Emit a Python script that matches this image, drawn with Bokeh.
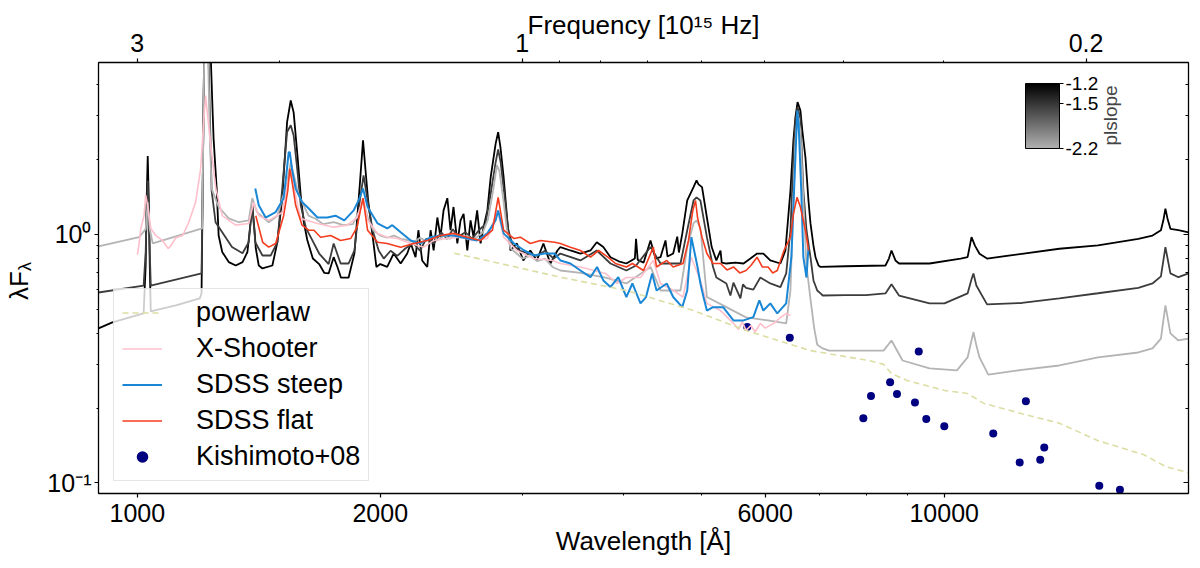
# -*- coding: utf-8 -*-
"""
Composite quasar spectra compared with three power-law models.

Rebuilt with bokeh from a matplotlib figure.
"""

from math import pi

from bokeh.embed import file_html
from bokeh.layouts import row
from bokeh.models import (ColorBar, CustomJSTickFormatter, Div, FixedTicker,
                          Label, Legend, LegendItem, LinearColorMapper,
                          LogAxis, LogScale, Range1d)
from bokeh.plotting import figure
from bokeh.resources import INLINE

C_AA = 2.998e18  # speed of light, Angstrom / s

wave_min, wave_max = 895.0, 20080.0
flux_min, flux_max = 0.0907, 4.92

wave_ticks = [1000, 2000, 6000, 10000]
wave_minor = [3000, 4000, 5000, 7000, 8000, 9000]
freq_ticks = [3, 1, 0.2]
freq_minor = [2, 0.9, 0.8, 0.7, 0.6, 0.5, 0.4, 0.3]
flux_ticks = [0.1, 1]
flux_minor = [0.2, 0.3, 0.4, 0.5, 0.6, 0.7, 0.8, 0.9, 2, 3, 4]
plslope_ticks = [-2.2, -1.5, -1.2]

# model composites (wavelength [A], lambda F_lambda), one per power-law slope
model_pl12 = [
    (895, 0.419), (931, 0.443), (1018, 0.481), (1024, 0.75), (1027, 1.40),
    (1030, 2.07), (1033, 1.40), (1036, 0.75), (1039, 0.490), (1116, 0.518),
    (1195, 0.553), (1201, 0.580), (1206, 2.00), (1210, 5.50), (1216, 9.00),
    (1224, 7.50), (1233, 5.20), (1238, 3.50), (1243, 2.43), (1254, 1.53),
    (1261, 0.99), (1274, 0.85), (1298, 0.774), (1324, 0.75), (1350, 0.774),
    (1369, 0.85), (1378, 1.04), (1388, 1.31), (1397, 1.04), (1402, 0.88),
    (1414, 0.75), (1429, 0.73), (1470, 0.75), (1491, 0.93), (1512, 1.40),
    (1533, 2.83), (1549, 3.46), (1562, 3.10), (1579, 2.08), (1594, 1.43),
    (1608, 1.12), (1624, 0.95), (1650, 0.80), (1680, 0.76), (1705, 0.70),
    (1726, 0.697), (1751, 0.81), (1770, 0.74), (1788, 0.67), (1827, 0.67),
    (1858, 0.84), (1887, 1.60), (1904, 2.39), (1918, 1.80), (1932, 1.37),
    (1960, 0.946), (1978, 0.74), (2000, 0.76), (2040, 0.74), (2078, 0.838),
    (2120, 0.764), (2160, 0.838), (2182, 0.92), (2212, 0.81), (2230, 1.04),
    (2254, 0.786), (2287, 0.74), (2309, 1.04), (2329, 0.862), (2354, 1.17),
    (2375, 0.975), (2396, 1.25), (2422, 1.40), (2444, 1.04), (2465, 1.29),
    (2492, 0.92), (2515, 1.14), (2537, 1.21), (2564, 0.862), (2588, 1.14),
    (2610, 0.975), (2637, 1.25), (2663, 0.92), (2686, 1.07), (2715, 1.25),
    (2741, 1.70), (2780, 2.32), (2800, 2.58), (2818, 2.25), (2844, 1.70),
    (2874, 1.14), (2900, 0.862), (2954, 0.92), (3008, 0.786), (3069, 0.862),
    (3127, 0.786), (3186, 0.92), (3250, 0.764), (3316, 0.862), (3344, 0.89),
    (3441, 0.862), (3541, 0.838), (3644, 0.862), (3710, 0.93), (3780, 0.89),
    (3858, 0.81), (3950, 0.78), (4037, 0.764), (4136, 0.80), (4150, 0.96),
    (4170, 0.79), (4240, 0.77), (4325, 0.946), (4387, 0.80), (4450, 0.81),
    (4514, 0.946), (4540, 0.815), (4614, 0.838), (4668, 0.98), (4690, 0.846),
    (4736, 1.01), (4803, 1.37), (4890, 1.55), (4932, 1.65), (4960, 1.59),
    (5010, 1.55), (5080, 1.17), (5150, 0.89), (5219, 0.786), (5281, 0.862),
    (5300, 0.77), (5370, 0.764), (5511, 0.77), (5640, 0.764), (5752, 0.80),
    (5862, 0.838), (5968, 0.838), (6088, 0.786), (6266, 0.764), (6356, 0.862),
    (6448, 1.50), (6503, 2.39), (6540, 2.96), (6580, 3.41), (6634, 3.15),
    (6670, 2.62), (6730, 2.04), (6788, 1.37), (6827, 1.11), (6886, 0.90),
    (6926, 0.81), (6986, 0.75), (7026, 0.74), (7540, 0.745), (8456, 0.75),
    (8540, 0.80), (8603, 0.862), (8701, 0.786), (8790, 0.764), (9590, 0.764),
    (10480, 0.80), (10690, 0.81), (10810, 0.975), (10920, 0.90),
    (11060, 0.836), (11300, 0.80), (12480, 0.836), (13890, 0.876),
    (15510, 0.903), (17400, 0.96), (18120, 0.99), (18560, 1.04),
    (18690, 1.14), (18800, 1.27), (18910, 1.16), (19070, 1.054),
    (19510, 1.04), (20080, 1.02),
]

model_pl15 = [
    (895, 0.584), (1018, 0.623), (1024, 0.85), (1027, 1.25), (1030, 1.65),
    (1033, 1.25), (1036, 0.85), (1039, 0.623), (1201, 0.697), (1206, 2.00),
    (1210, 5.50), (1216, 9.00), (1224, 6.00), (1230, 3.00), (1236, 1.50),
    (1250, 1.12), (1274, 1.02), (1310, 0.89), (1350, 0.84), (1374, 0.93),
    (1388, 1.31), (1400, 0.93), (1429, 0.823), (1463, 0.823), (1491, 0.93),
    (1512, 1.53), (1533, 2.58), (1549, 2.75), (1562, 2.50), (1579, 1.80),
    (1594, 1.31), (1618, 1.06), (1640, 0.975), (1680, 0.838), (1726, 0.76),
    (1751, 0.92), (1786, 0.764), (1827, 0.764), (1858, 0.862), (1887, 1.37),
    (1907, 1.73), (1929, 1.37), (1957, 1.04), (1991, 0.862), (2020, 0.80),
    (2060, 0.86), (2100, 0.82), (2150, 0.88), (2200, 0.92), (2240, 0.86),
    (2280, 0.96), (2330, 0.92), (2380, 1.02), (2420, 0.96), (2460, 1.05),
    (2500, 0.98), (2550, 1.02), (2600, 0.96), (2650, 1.04), (2700, 1.10),
    (2740, 1.45), (2780, 1.95), (2800, 2.20), (2820, 1.95), (2850, 1.45),
    (2880, 1.05), (2920, 0.90), (2980, 0.86), (3050, 0.84), (3130, 0.82),
    (3200, 0.86), (3280, 0.80), (3344, 0.838), (3541, 0.786), (3710, 0.862),
    (3858, 0.764), (4037, 0.716), (4150, 0.75), (4325, 0.89), (4450, 0.764),
    (4711, 0.764), (4803, 1.04), (4890, 1.37), (4932, 1.41), (4987, 1.37),
    (5080, 0.975), (5170, 0.74), (5219, 0.671), (5370, 0.635), (5433, 0.568),
    (5480, 0.64), (5590, 0.553), (5630, 0.63), (5680, 0.61), (5800, 0.60),
    (5917, 0.671), (6088, 0.635), (6266, 0.614), (6370, 0.697), (6448, 1.04),
    (6503, 2.04), (6540, 2.88), (6580, 3.25), (6634, 2.93), (6690, 1.50),
    (6750, 1.04), (6827, 0.81), (6886, 0.653), (6960, 0.595), (7026, 0.579),
    (7070, 0.568), (7540, 0.57), (8000, 0.57), (8456, 0.579), (8603, 0.63),
    (8790, 0.568), (9590, 0.528), (10007, 0.528), (10690, 0.579),
    (10810, 0.66), (10870, 0.697), (10960, 0.623), (11300, 0.523),
    (12480, 0.53), (13890, 0.553), (15510, 0.58), (17400, 0.61),
    (18120, 0.635), (18560, 0.678), (18800, 0.889), (19070, 0.697),
    (19510, 0.673), (20080, 0.697),
]

model_pl22 = [
    (895, 0.895), (1005, 0.975), (1024, 1.05), (1030, 1.35), (1036, 1.05),
    (1045, 0.92), (1203, 1.057), (1206, 2.00), (1210, 5.00), (1216, 9.00),
    (1224, 5.00), (1230, 2.40), (1236, 1.53), (1261, 1.29), (1298, 1.16),
    (1336, 1.12), (1374, 1.14), (1388, 1.40), (1407, 1.23), (1455, 1.12),
    (1491, 1.19), (1533, 1.62), (1549, 1.95), (1563, 1.73), (1585, 1.44),
    (1630, 1.19), (1663, 1.157), (1700, 1.10), (1751, 1.12), (1800, 1.09),
    (1850, 1.10), (1880, 1.22), (1905, 1.37), (1930, 1.17), (1960, 1.04),
    (2000, 0.99), (2040, 0.97), (2080, 0.99), (2120, 0.96), (2160, 0.95),
    (2200, 0.93), (2240, 0.97), (2280, 0.94), (2320, 0.98), (2360, 0.95),
    (2400, 0.99), (2440, 0.96), (2480, 1.00), (2520, 0.97), (2560, 0.99),
    (2600, 0.95), (2640, 0.98), (2680, 1.02), (2720, 1.15), (2760, 1.50),
    (2790, 1.90), (2810, 1.80), (2840, 1.40), (2870, 1.05), (2900, 0.88),
    (2950, 0.84), (3000, 0.80), (3070, 0.82), (3130, 0.78), (3200, 0.80),
    (3270, 0.74), (3344, 0.716), (3541, 0.70), (3803, 0.671), (4037, 0.635),
    (4325, 0.74), (4450, 0.595), (4711, 0.595), (4803, 0.89), (4890, 1.11),
    (4932, 1.14), (4987, 1.06), (5080, 0.56), (5370, 0.51), (5680, 0.464),
    (6050, 0.451), (6370, 0.439), (6448, 0.595), (6503, 1.37), (6540, 2.39),
    (6580, 3.00), (6634, 2.62), (6690, 1.37), (6750, 0.75), (6827, 0.55),
    (6900, 0.42), (6960, 0.36), (7070, 0.348), (7200, 0.341), (8410, 0.341),
    (8603, 0.3745), (8880, 0.311), (9590, 0.289), (10370, 0.284),
    (10690, 0.32), (10870, 0.405), (10960, 0.358), (11060, 0.32),
    (11340, 0.273), (12480, 0.285), (13890, 0.297), (15510, 0.32),
    (17400, 0.335), (18120, 0.348), (18560, 0.381), (18800, 0.518),
    (19070, 0.40), (19510, 0.3745), (20080, 0.381),
]

xshooter = [
    (1000, 0.83), (1004, 0.90), (1010, 1.057), (1019, 1.19), (1024, 1.44),
    (1030, 1.30), (1039, 1.057), (1054, 0.99), (1074, 0.946), (1092, 0.878),
    (1100, 0.90), (1116, 0.97), (1138, 0.99), (1158, 1.12), (1181, 1.35),
    (1198, 1.84), (1208, 2.80), (1215, 3.62), (1222, 3.00), (1233, 2.28),
    (1251, 1.53), (1274, 1.19), (1324, 1.09), (1374, 1.107), (1393, 1.345),
    (1414, 1.19), (1455, 1.14), (1512, 1.226), (1540, 1.68), (1549, 1.81),
    (1562, 1.57), (1580, 1.31), (1594, 1.16), (1672, 1.107), (1751, 1.07),
    (1820, 1.09), (1872, 1.17), (1904, 1.40), (1929, 1.14), (1985, 1.01),
    (2040, 0.975), (2100, 0.963), (2182, 0.92), (2265, 0.889), (2329, 0.946),
    (2422, 0.963), (2515, 0.975), (2610, 0.946), (2715, 0.963), (2795, 1.25),
    (2844, 0.975), (2954, 0.862), (3100, 0.80), (3270, 0.786), (3344, 0.764),
    (3541, 0.74), (3680, 0.716), (3803, 0.697), (3930, 0.635), (4037, 0.671),
    (4203, 0.671), (4360, 0.786), (4450, 0.635), (4620, 0.595), (4745, 0.56),
    (4858, 0.81), (4987, 0.653), (5080, 0.528), (5281, 0.494), (5480, 0.439),
    (5560, 0.415), (5620, 0.445), (5680, 0.411), (5760, 0.43), (5830, 0.405),
    (5917, 0.439), (6000, 0.42), (6150, 0.439), (6250, 0.46), (6370, 0.481),
    (6448, 0.472),
]

sdss_steep = [
    (1400, 1.53), (1414, 1.31), (1442, 1.17), (1484, 1.23), (1518, 1.40),
    (1530, 1.75), (1540, 2.14), (1545, 2.14), (1556, 1.80), (1571, 1.53),
    (1600, 1.35), (1624, 1.29), (1672, 1.17), (1720, 1.17), (1760, 1.19),
    (1805, 1.14), (1854, 1.25), (1880, 1.37), (1904, 1.53), (1929, 1.29),
    (1985, 1.107), (2040, 1.057), (2070, 1.09), (2120, 1.02), (2182, 0.946),
    (2244, 0.92), (2309, 0.975), (2375, 0.99), (2465, 0.99), (2564, 0.963),
    (2637, 0.946), (2715, 1.01), (2780, 1.14), (2800, 1.25), (2844, 1.01),
    (2930, 0.92), (3017, 0.862), (3104, 0.823), (3195, 0.838), (3290, 0.838),
    (3344, 0.786), (3441, 0.764), (3541, 0.716), (3644, 0.673), (3713, 0.74),
    (3780, 0.653), (3858, 0.614), (3945, 0.673), (4037, 0.56), (4107, 0.635),
    (4203, 0.528), (4270, 0.56), (4345, 0.697), (4400, 0.595), (4530, 0.635),
    (4614, 0.56), (4735, 0.51), (4803, 0.595), (4860, 0.975), (4946, 0.74),
    (4987, 0.635), (5031, 0.56), (5080, 0.494), (5170, 0.51), (5320, 0.51),
    (5480, 0.451), (5640, 0.451), (5800, 0.465), (5900, 0.543), (5968, 0.494),
    (6088, 0.528), (6210, 0.481), (6370, 0.528), (6465, 0.81), (6540, 2.04),
    (6575, 3.15), (6600, 2.79), (6650, 1.50), (6690, 0.81), (6750, 0.671),
    (6790, 0.90),
]

sdss_flat = [
    (1402, 1.19), (1430, 0.93), (1455, 0.889), (1484, 0.92), (1518, 1.19),
    (1536, 1.50), (1545, 1.84), (1558, 1.57), (1571, 1.31), (1600, 1.09),
    (1630, 1.04), (1655, 1.04), (1687, 0.975), (1736, 0.99), (1786, 0.946),
    (1838, 0.963), (1872, 1.07), (1890, 1.25), (1904, 1.40), (1929, 1.04),
    (1985, 0.93), (2040, 0.92), (2120, 0.889), (2200, 0.92), (2287, 0.946),
    (2375, 0.99), (2465, 1.01), (2564, 0.975), (2663, 0.946), (2755, 1.04),
    (2800, 1.41), (2844, 1.04), (2930, 0.963), (2983, 0.975), (3069, 0.92),
    (3158, 0.946), (3290, 0.93), (3344, 0.92), (3441, 0.889), (3541, 0.862),
    (3644, 0.81), (3730, 0.862), (3830, 0.81), (3913, 0.764), (4037, 0.74),
    (4107, 0.764), (4240, 0.716), (4360, 0.889), (4400, 0.74), (4530, 0.786),
    (4614, 0.74), (4745, 0.764), (4820, 0.946), (4880, 1.25), (4918, 1.37),
    (4946, 1.17), (5010, 0.975), (5080, 0.838), (5170, 0.764), (5281, 0.764),
    (5380, 0.72), (5480, 0.74), (5580, 0.70), (5680, 0.716), (5760, 0.75),
    (5862, 0.81), (5950, 0.74), (6050, 0.74), (6130, 0.70), (6210, 0.716),
    (6330, 0.862), (6448, 0.975), (6503, 1.21), (6570, 1.41), (6634, 1.29),
    (6730, 1.04), (6790, 0.862),
]

powerlaw = [
    (2470, 0.84), (2818, 0.764), (3344, 0.673), (4037, 0.595), (4890, 0.494),
    (5680, 0.411), (6827, 0.341), (8056, 0.311), (8410, 0.30), (8603, 0.276),
    (8990, 0.2586), (10007, 0.2357), (10690, 0.229), (11200, 0.209),
    (12480, 0.19), (13890, 0.174), (15510, 0.148), (17670, 0.13),
    (18860, 0.116), (20080, 0.11),
]

kish_wave = [5700, 6436, 7939, 8114, 8569, 8739, 9299, 9199, 9501, 10002,
             11502, 12624, 12403, 13152, 13304, 15566, 16511]
kish_flux = [0.424, 0.384, 0.182, 0.224, 0.254, 0.228, 0.338, 0.211, 0.181,
             0.169, 0.158, 0.213, 0.121, 0.124, 0.139, 0.0974, 0.0939]

FONT = "Liberation Sans"
LABEL_W = 36  # width of the strip that carries the y label


def cols(pairs):
    """Split a list of (wavelength, flux) pairs into two lists."""
    return [w for w, _ in pairs], [f for _, f in pairs]


p = figure(width=1200 - LABEL_W, height=568, x_axis_type="log",
           y_axis_type="log",
           x_range=Range1d(wave_min, wave_max),
           y_range=Range1d(flux_min, flux_max),
           output_backend="svg", toolbar_location=None,
           min_border_left=98 - LABEL_W, min_border_right=12,
           min_border_top=62, min_border_bottom=75,
           background_fill_color="white", border_fill_color="white")
p.xgrid.grid_line_color = None
p.ygrid.grid_line_color = None
p.outline_line_color = "black"

# kishimoto points go underneath the spectra, as in the original
r_kish = p.scatter(kish_wave, kish_flux, size=8, color="navy", line_width=0)

# power-law models, coloured by slope
model_colors = ["#000000", "#3c3c3c", "#b4b4b4"]
for pairs, colr in zip([model_pl12, model_pl15, model_pl22], model_colors):
    w, f = cols(pairs)
    p.line(w, f, line_color=colr, line_width=1.8)

w, f = cols(xshooter)
r_xs = p.line(w, f, line_color="pink", line_width=1.6)
w, f = cols(sdss_steep)
r_steep = p.line(w, f, line_color="#1a87d6", line_width=2)
w, f = cols(sdss_flat)
r_flat = p.line(w, f, line_color="#f43c1e", line_width=1.6)
w, f = cols(powerlaw)
r_pl = p.line(w, f, line_color="#dcdda3", line_width=1.6, line_dash="6 4")

# ---- axes
bottom = p.below[0]
left = p.left[0]

bottom.ticker = FixedTicker(ticks=wave_ticks, minor_ticks=wave_minor)
bottom.formatter = CustomJSTickFormatter(code="return tick.toFixed(0)")
bottom.axis_label = "Wavelength [Å]"
bottom.major_label_standoff = 6
bottom.axis_label_standoff = 1

left.ticker = FixedTicker(ticks=flux_ticks, minor_ticks=flux_minor)
left.formatter = CustomJSTickFormatter(
    code="return tick < 0.5 ? '10\u207b\u00b9' : '10\u2070'")
left.major_label_standoff = 3

p.extra_x_ranges = {"freq": Range1d(C_AA / wave_min / 1e15,
                                    C_AA / wave_max / 1e15)}
p.extra_x_scales = {"freq": LogScale()}
top = LogAxis(x_range_name="freq",
              ticker=FixedTicker(ticks=freq_ticks, minor_ticks=freq_minor),
              formatter=CustomJSTickFormatter(
                  code="return tick >= 1 ? tick.toFixed(0) : tick.toFixed(1)"),
              axis_label="Frequency [10¹⁵ Hz]",
              major_label_standoff=7, axis_label_standoff=-9)
p.add_layout(top, "above")

right = LogAxis(ticker=FixedTicker(ticks=flux_ticks, minor_ticks=flux_minor),
                formatter=CustomJSTickFormatter(code="return ''"),
                major_tick_in=5, major_tick_out=0,
                minor_tick_in=3, minor_tick_out=0, major_label_standoff=0)
p.add_layout(right, "right")

for ax in [bottom, left, top, right]:
    ax.axis_line_width = 1.3
    ax.major_tick_line_width = 1.2
    ax.minor_tick_line_width = 1
    ax.major_label_text_font = FONT
    ax.major_label_text_font_size = "25px"
    ax.major_label_text_color = "black"
    ax.axis_label_text_font = FONT
    ax.axis_label_text_font_size = "26px"
    ax.axis_label_text_font_style = "normal"
    ax.axis_label_text_color = "black"
for ax in [bottom, left, top]:
    ax.major_tick_out = 4
    ax.major_tick_in = 0
    ax.minor_tick_out = 2
    ax.minor_tick_in = 0

# ---- legend
legend = Legend(items=[LegendItem(label="powerlaw", renderers=[r_pl]),
                       LegendItem(label="X-Shooter", renderers=[r_xs]),
                       LegendItem(label="SDSS steep", renderers=[r_steep]),
                       LegendItem(label="SDSS flat", renderers=[r_flat]),
                       LegendItem(label="Kishimoto+08", renderers=[r_kish])],
                location=(15, 12), label_text_font=FONT,
                label_text_font_size="27px", label_text_color="black",
                glyph_width=40, glyph_height=29,
                label_height=29, spacing=5, padding=8, margin=0,
                label_standoff=34, border_line_color="#cccccc",
                background_fill_alpha=0.8)
p.add_layout(legend)

# ---- colour bar for the model slopes
grays = ["#%02x%02x%02x" % (v, v, v) for v in range(176, -1, -1)]
mapper = LinearColorMapper(palette=grays, low=-2.2, high=-1.2)
cbar = ColorBar(color_mapper=mapper, orientation="vertical", width=34,
                height=65, location=(927, 345), padding=0,
                ticker=FixedTicker(ticks=plslope_ticks),
                formatter=CustomJSTickFormatter(code="return tick.toFixed(1)"),
                major_label_text_font=FONT, major_label_text_font_size="19px",
                major_label_text_color="black",
                bar_line_color="black", major_tick_line_color="black",
                major_tick_in=0, major_tick_out=4, label_standoff=2,
                background_fill_alpha=0, border_line_color=None)
p.add_layout(cbar)
p.add_layout(Label(x=1012, y=378, x_units="screen", y_units="screen",
                   text="plslope", angle=pi / 2, text_align="center",
                   text_baseline="middle", text_font=FONT,
                   text_font_size="19px"))

# ---- y label with a real subscript, as rotated html left of the plot
ylabel = Div(
    text=('<div style="padding-top:262px; padding-left:6px;">'
          '<span style="display:inline-block; writing-mode:vertical-rl; '
          'transform:rotate(180deg); font-family:\'Liberation Sans\'; '
          'font-size:26px; line-height:1; color:black; '
          'white-space:nowrap;">λF<sub style="font-size:18px;">λ</sub>'
          '</span></div>'),
    width=LABEL_W, height=568, margin=0)

open("out.html", "w").write(file_html(row(ylabel, p), INLINE))
